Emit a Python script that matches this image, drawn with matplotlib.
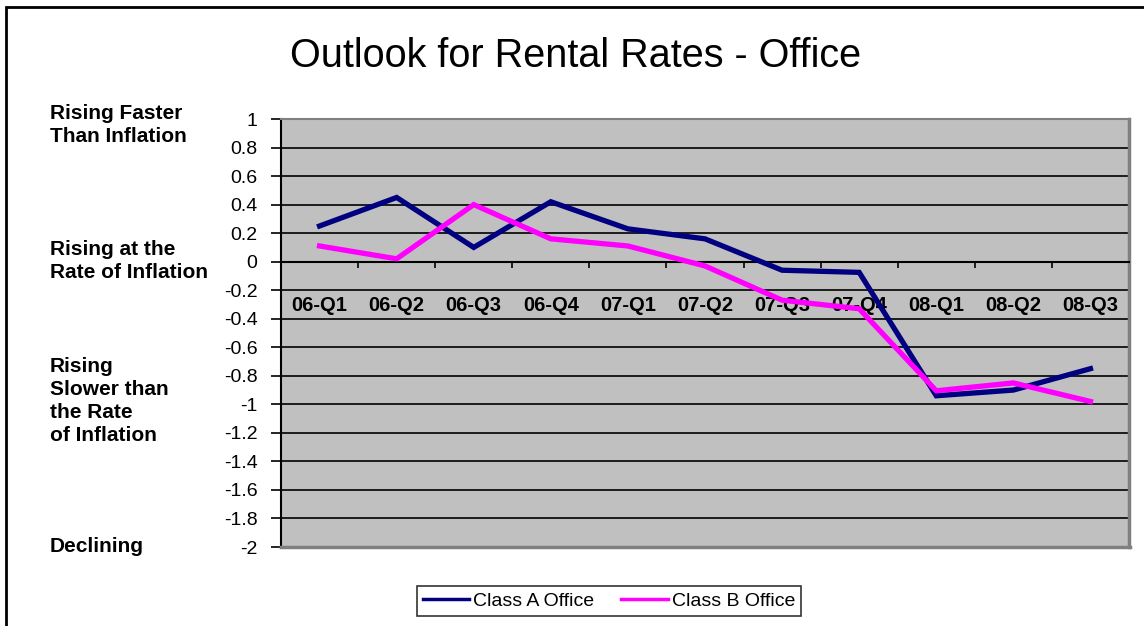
import matplotlib
matplotlib.use("Agg")
import numpy as np
from matplotlib import pyplot as plt, patches
from matplotlib.lines import Line2D

plt.rcParams['font.family'] = ['Liberation Sans', 'DejaVu Sans']

quarters = ['06-Q1', '06-Q2', '06-Q3', '06-Q4', '07-Q1', '07-Q2',
            '07-Q3', '07-Q4', '08-Q1', '08-Q2', '08-Q3']
class_a = [0.25, 0.45, 0.10, 0.42, 0.23, 0.16, -0.06, -0.075, -0.94, -0.90, -0.75]
class_b = [0.11, 0.02, 0.40, 0.16, 0.11, -0.03, -0.27, -0.33, -0.905, -0.85, -0.98]
y_ticks = [1, 0.8, 0.6, 0.4, 0.2, 0, -0.2, -0.4, -0.6, -0.8, -1,
           -1.2, -1.4, -1.6, -1.8, -2]
side_labels = [('Rising Faster\nThan Inflation', 104),
               ('Rising at the\nRate of Inflation', 240),
               ('Rising\nSlower than\nthe Rate\nof Inflation', 357),
               ('Declining', 537)]

W, H = 1144, 626
fig = plt.figure(figsize=(W / 100, H / 100), dpi=100)
fig.patch.set_facecolor('white')

# outer chart border (runs off the right and bottom edges)
border = patches.Rectangle((6 / W, -0.1), 1.2, 1 - 7 / H + 0.1, transform=fig.transFigure,
                           fill=False, edgecolor='black', lw=2, clip_on=False)
fig.patches.append(border)

left, right, top, bottom = 281, 1129, 119, 547
ax = fig.add_axes([left / W, 1 - bottom / H, (right - left) / W, (bottom - top) / H])
ax.set_facecolor('#C0C0C0')

x = np.arange(len(quarters))
ax.plot(x, class_a, color='#000080', lw=3.8, zorder=4, solid_joinstyle='miter')
ax.plot(x, class_b, color='#FF00FF', lw=3.8, zorder=4, solid_joinstyle='miter')

ax.set_xlim(-0.5, len(quarters) - 0.5)
ax.set_ylim(-2, 1)
ax.set_yticks(y_ticks)
ax.set_yticklabels([f'{v:g}' for v in y_ticks])
ax.yaxis.grid(True, color='black', lw=1.2)
ax.set_axisbelow(True)
ax.tick_params(axis='y', direction='out', length=7, width=1.2, pad=10, labelsize=14)

# category axis crosses at zero
ax.spines['bottom'].set_position(('data', 0))
ax.spines['bottom'].set_color('black')
ax.spines['bottom'].set_linewidth(1.5)
ax.set_xticks(x)
ax.set_xticklabels(quarters, fontweight='bold', fontsize=14.5)
ax.set_xticks(np.arange(len(quarters) + 1) - 0.5, minor=True)
ax.tick_params(axis='x', which='major', length=0, pad=25)
ax.tick_params(axis='x', which='minor', direction='out', length=4.5, width=1.2)

ax.spines['left'].set_color('black')
ax.spines['left'].set_linewidth(1.5)
ax.spines['top'].set_color('#808080')
ax.spines['top'].set_linewidth(1.5)
ax.spines['right'].set_color('#808080')
ax.spines['right'].set_linewidth(2.5)
# bottom edge of plot area
ax.add_line(Line2D([0, 1.0015], [0, 0], transform=ax.transAxes, color='#808080',
                   lw=2.5, clip_on=False, zorder=5))

fig.text(576 / W, 1 - 56 / H, 'Outlook for Rental Rates - Office', fontsize=28.5,
         ha='center', va='center')

for txt, ytop in side_labels:
    fig.text(50 / W, 1 - ytop / H, txt, fontsize=15, fontweight='bold',
             ha='left', va='top', linespacing=1.27)

handles = [Line2D([], [], color='#000080', lw=2.5), Line2D([], [], color='#FF00FF', lw=2.5)]
leg = fig.legend(handles, ['Class A Office', 'Class B Office'], loc='center',
                 bbox_to_anchor=(609 / W, 1 - 601 / H), ncol=2, fontsize=14,
                 frameon=True, fancybox=False, edgecolor='black', handlelength=2.4,
                 handletextpad=0.2, columnspacing=1.4, borderpad=0.3)
leg.get_frame().set_linewidth(1.2)

fig.savefig('out.png', dpi=100, facecolor='white')
